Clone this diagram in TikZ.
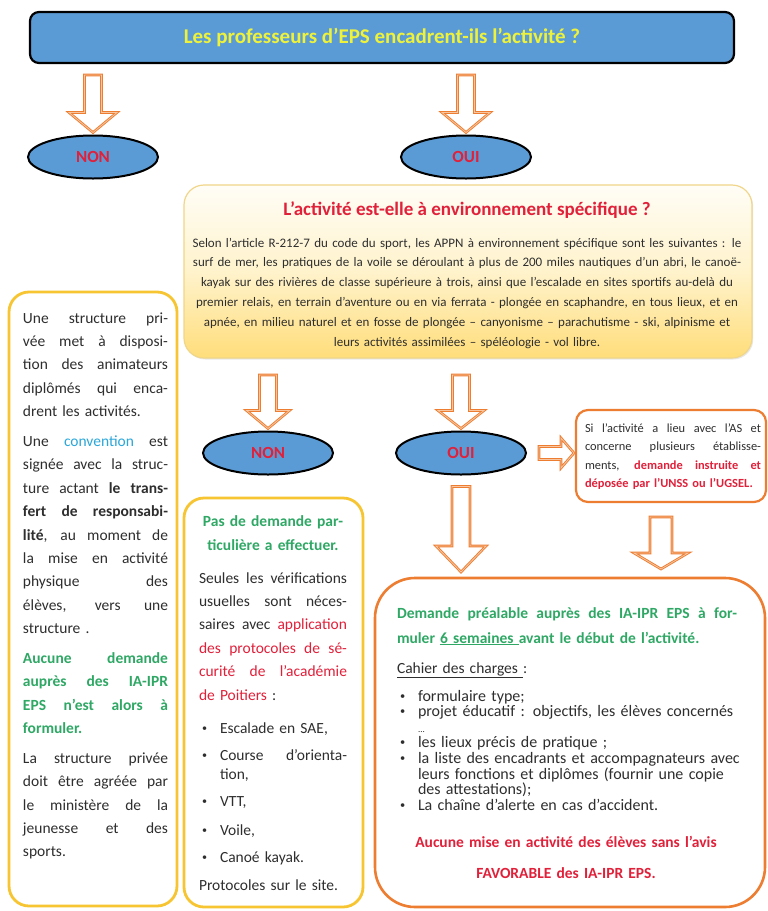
\documentclass[tikz,border=0pt]{standalone}
\usepackage{graphicx}
\usepackage{fontspec}
\setmainfont{Carlito}
\usetikzlibrary{calc,shapes.geometric,shadows}
\definecolor{bblue}{HTML}{5B9BD5}
\definecolor{tyellow}{HTML}{EEF23A}
\definecolor{tred}{HTML}{E1203A}
\definecolor{tgreen}{HTML}{2FA865}
\definecolor{tcyan}{HTML}{2AA7DA}
\definecolor{tgray}{HTML}{2E2E2E}
\definecolor{orng}{HTML}{ED7D31}
\definecolor{orngL}{HTML}{F8C6A0}
\definecolor{gold}{HTML}{F7C532}
\definecolor{qtop}{HTML}{FFFDF6}
\definecolor{qmid}{HTML}{FFF3CC}
\definecolor{qbot}{HTML}{FFDD7A}
\definecolor{qedge}{HTML}{F0D68A}

\newcommand\Jl[1]{\leavevmode\hbox to\linewidth{\spaceskip=\fontdimen2\font plus 1fil\relax\xspaceskip=\spaceskip #1}}
\newcommand\Gr[1]{\textcolor{tgreen}{\bfseries #1}}
\newcommand\Rd[1]{\textcolor{tred}{#1}}
\newcommand\bul{\raisebox{0.12em}{\scalebox{0.65}{•}}}
\newcommand\Bm[1]{\makebox[21pt][l]{\hspace{3pt}\bul}#1}
\newcommand\Bmj[1]{\makebox[21pt][l]{\hspace{3pt}\bul}\hbox to\dimexpr\linewidth-21pt\relax{\spaceskip=\fontdimen2\font plus 1fil\relax\xspaceskip=\spaceskip #1}}
\newcommand\Bl[1]{\makebox[18pt][l]{\bul}#1}

\newcommand\blockdown[5]{%
  \path[blockarr] let \p1=#1, \p2=#2 in
    (\x1-#3pt,\y1) -- (\x1+#3pt,\y1) -- (\x1+#3pt,\y2+#5pt) -- (\x1+#4pt,\y2+#5pt)
    -- (\x1,\y2) -- (\x1-#4pt,\y2+#5pt) -- (\x1-#3pt,\y2+#5pt) -- cycle;}
\newcommand\blockright[5]{%
  \path[blockarr] let \p1=#1, \p2=#2 in
    (\x1,\y1+#3pt) -- (\x2-#5pt,\y1+#3pt) -- (\x2-#5pt,\y1+#4pt) -- (\x2,\y1)
    -- (\x2-#5pt,\y1-#4pt) -- (\x2-#5pt,\y1-#3pt) -- (\x1,\y1-#3pt) -- cycle;}

\begin{document}
\begin{tikzpicture}[x=1pt,y=-1pt,
 every node/.style={inner sep=0pt,outer sep=0pt},
 ell/.style={ellipse,draw=black,line width=2pt,fill=bblue,minimum width=130pt,minimum height=43pt,text=tred,font=\fontsize{17}{19}\selectfont\bfseries},
 goldbox/.style={draw=gold,line width=2.8pt,rounded corners=20pt,fill=white,anchor=north west},
 orbox/.style={draw=orng,line width=2.6pt,fill=white,anchor=north west},
 blockarr/.style={draw=orng,line width=2.6pt,fill=white,line join=miter,postaction={draw=orngL,line width=0.8pt}},
 body/.style={anchor=base west,text=tgray}]

\useasboundingbox (0,0) rectangle (768,911);
\fill[white] (0,0) rectangle (768,911);

\node[draw=black,line width=2.2pt,fill=bblue,rounded corners=9pt,minimum width=704pt,minimum height=51pt,text=tyellow,font=\fontsize{21}{24}\selectfont\bfseries] (title) at (382,37.5) {Les professeurs d’EPS encadrent-ils l’activité ?};

\node[ell] (non) at (93,157) {NON};
\node[ell] (oui) at (466,157) {OUI};

\node[draw=qedge,line width=1.2pt,rounded corners=20pt,top color=qtop,bottom color=qbot,middle color=qmid,minimum width=568pt,minimum height=173pt,anchor=north west,drop shadow={shadow xshift=1.2pt,shadow yshift=-1.5pt,opacity=0.18}] (q2) at (184,185) {};
\node[text=tred,font=\fontsize{19}{22}\selectfont\bfseries] (q2title) at (467,210) {L’activité est-elle à environnement spécifique ?};
\node[anchor=base,text width=566pt,align=center,text=tgray,font=\fontsize{13}{19.8}\selectfont] (q2body) at (467,247) {Selon l’article R-212-7 du code du sport, les APPN à environnement spécifique sont les suivantes : le\\
surf de mer, les pratiques de la voile se déroulant à plus de 200 miles nautiques d’un abri, le canoë-\\
kayak sur des rivières de classe supérieure à trois, ainsi que l’escalade en sites sportifs au-delà du\\
premier relais, en terrain d’aventure ou en via ferrata - plongée en scaphandre, en tous lieux, et en\\
apnée, en milieu naturel et en fosse de plongée – canyonisme – parachutisme - ski, alpinisme et\\
leurs activités assimilées – spéléologie - vol libre.};

\node[goldbox,minimum width=168pt,minimum height=614pt] (leftbox) at (9,292) {};
\node[body,text width=145pt,font=\fontsize{15.5}{23.45}\selectfont] (lefttext) at (23,323) {%
\Jl{Une structure pri-}\\
\Jl{vée met à disposi-}\\
\Jl{tion des animateurs}\\
\Jl{diplômés qui enca-}\\
drent les activités.\\[6pt]
\Jl{Une \textcolor{tcyan}{convention} est}\\
\Jl{signée avec la struc-}\\
\Jl{ture actant \textbf{le trans-}}\\
\Jl{\textbf{fert de responsabi-}}\\
\Jl{\textbf{lité}, au moment de}\\
\Jl{la mise en activité}\\
\Jl{physique des}\\
\Jl{élèves, vers une}\\
structure .\\[6pt]
\Jl{\Gr{Aucune demande}}\\
\Jl{\Gr{auprès des IA-IPR}}\\
\Jl{\Gr{EPS n’est alors à}}\\
\Gr{formuler.}\\[6pt]
\Jl{La structure privée}\\
\Jl{doit être agréée par}\\
\Jl{le ministère de la}\\
\Jl{jeunesse et des}\\
sports.};

\node[ell] (non2) at (268,453) {NON};
\node[ell] (oui2) at (461,453) {OUI};

\node[orbox,rounded corners=12pt,line width=2.2pt,minimum width=190pt,minimum height=92pt] (small) at (576,410) {};
\node[body,text width=176pt,font=\fontsize{12.4}{18.4}\selectfont] (smalltext) at (585,432.5) {%
\Jl{Si l’activité a lieu avec l’AS et}\\
\Jl{concerne plusieurs établisse-}\\
\Jl{ments, \Rd{\bfseries demande instruite et}}\\
\Rd{\bfseries déposée par l’UNSS ou l’UGSEL.}};

\node[goldbox,minimum width=179pt,minimum height=409pt] (mid) at (184,498) {};
\node[body,text width=148pt,font=\fontsize{15.5}{19}\selectfont] (midtext) at (199,526) {%
\makebox[\linewidth]{\Gr{Pas de demande par-}}\\[5pt]
\makebox[\linewidth]{\Gr{ticulière a effectuer.}}\\[14pt]
\Jl{Seules les vérifications}\\[4.45pt]
\Jl{usuelles sont néces-}\\[4.45pt]
\Jl{saires avec \Rd{application}}\\[4.45pt]
\Jl{\Rd{des protocoles de sé-}}\\[4.45pt]
\Jl{\Rd{curité de l’académie}}\\[4.45pt]
\Rd{de Poitiers} :\\[14pt]
\Bm{Escalade en SAE,}\\[8pt]
\Bmj{Course d’orienta-}\\
\hspace*{21pt}tion,\\[8pt]
\Bm{VTT,}\\[10pt]
\Bm{Voile,}\\[8pt]
\Bm{Canoé kayak.}\\[9pt]
Protocoles sur le site.};

\node[orbox,rounded corners=40pt,minimum width=390pt,minimum height=329pt] (big) at (375,578) {};
\node[body,text width=340pt,font=\fontsize{15.5}{25}\selectfont] (bigtext) at (397,618) {%
\Jl{\Gr{Demande préalable auprès des IA-IPR EPS à for-}}\\
\Gr{muler \underline{6 semaines\ }avant le début de l’activité.}\\[5pt]
\underline{Cahier des charges\ }:};
\node[body,text width=345pt,font=\fontsize{16}{15.6}\selectfont] (biglist) at (400,701) {%
\Bl{formulaire type;}\\
\Bl{projet éducatif : objectifs, les élèves concernés}\\
\hspace*{18pt}{\fontsize{9}{9}\selectfont ...}\\
\Bl{les lieux précis de pratique ;}\\
\Bl{la liste des encadrants et accompagnateurs avec}\\
\hspace*{18pt}leurs fonctions et diplômes (fournir une copie\\
\hspace*{18pt}des attestations);\\
\Bl{La chaîne d’alerte en cas d’accident.}};
\node[anchor=base,text width=360pt,align=center,text=tred,font=\fontsize{15.5}{31}\selectfont\bfseries] (bigred) at (566,847) {Aucune mise en activité des élèves sans l’avis\\FAVORABLE des IA-IPR EPS.};

% block arrows
\blockdown{($(title.south -| non)+(0,12)$)}{($(non.north)+(0,-3)$)}{8.5}{24}{20}
\blockdown{($(title.south -| oui)+(0,12)$)}{($(oui.north)+(0,-3)$)}{8.5}{24}{20}
\blockdown{($(q2.south -| non2)+(0,17)$)}{($(non2.north)+(0,-3)$)}{8.5}{21.5}{18}
\blockdown{($(q2.south -| oui2)+(0,17)$)}{($(oui2.north)+(0,-3)$)}{8.5}{23}{18}
\blockright{($(oui2.east)+(13,0)$)}{($(small.west |- oui2)+(-2,0)$)}{6.5}{15}{13}
\blockdown{($(oui2.south)+(0,12)$)}{($(big.north -| oui2)+(0,-6)$)}{9}{25}{26}
\blockdown{($(small.south)+(-10,15)$)}{($(big.north)+(0,-9)$)}{11}{27}{16}
\end{tikzpicture}
\end{document}
